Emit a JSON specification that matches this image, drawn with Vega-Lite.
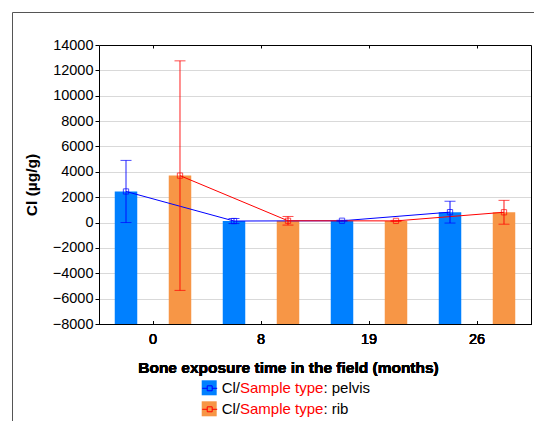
{
  "$schema": "https://vega.github.io/schema/vega-lite/v6.json",
  "width": 524,
  "height": 411,
  "autosize": {"type": "none"},
  "padding": {"left": 12, "top": 12, "right": 0, "bottom": 0},
  "background": "#ffffff",
  "config": {
    "font": "Liberation Sans",
    "view": {"stroke": "#555555", "strokeWidth": 1},
    "axis": {
      "labelColor": "#000000",
      "titleColor": "#000000",
      "domainColor": "#000000",
      "tickColor": "#000000",
      "labelFontSize": 14.5,
      "titleFontSize": 15.5,
      "titleFontWeight": "bold"
    }
  },
  "data": {
    "values": [
      {"month": 0, "type": "pelvis", "mean": 2450, "low": 0, "high": 4900},
      {"month": 0, "type": "rib", "mean": 3700, "low": -5350, "high": 12750},
      {"month": 8, "type": "pelvis", "mean": 120, "low": -80, "high": 320},
      {"month": 8, "type": "rib", "mean": 140, "low": -200, "high": 480},
      {"month": 19, "type": "pelvis", "mean": 140, "low": 100, "high": 180},
      {"month": 19, "type": "rib", "mean": 130, "low": 90, "high": 170},
      {"month": 26, "type": "pelvis", "mean": 820, "low": -40, "high": 1680},
      {"month": 26, "type": "rib", "mean": 810, "low": -130, "high": 1750}
    ]
  },
  "encoding": {
    "x": {
      "field": "month",
      "type": "ordinal",
      "scale": {"range": [87, 519], "paddingInner": 0, "paddingOuter": 0},
      "axis": {
        "orient": "bottom",
        "offset": -99,
        "labelAngle": 0,
        "tickSize": -3,
        "labelPadding": 11,
        "domainColor": "#000000",
        "title": "Bone exposure time in the field (months)",
        "titleX": 276,
        "titleY": 43,
        "titleBaseline": "middle"
      }
    },
    "xOffset": {
      "field": "type",
      "type": "nominal",
      "scale": {"paddingInner": 0.5833, "paddingOuter": 0.2917}
    }
  },
  "layer": [
    {
      "mark": {"type": "bar"},
      "encoding": {
        "y": {
          "field": "mean",
          "type": "quantitative",
          "scale": {"domain": [-8000, 14000], "range": [312, 33], "nice": false, "zero": false},
          "axis": {
            "orient": "left",
            "offset": -87,
            "values": [-8000, -6000, -4000, -2000, 0, 2000, 4000, 6000, 8000, 10000, 12000, 14000],
            "format": "d",
            "grid": true,
            "gridColor": "#d9d9d9",
            "tickSize": 4,
            "labelPadding": 2,
            "title": "Cl (µg/g)",
            "titleX": -68,
            "titleY": 172.5,
            "titleBaseline": "middle",
            "titleAlign": "center"
          }
        },
        "y2": {"datum": -8000},
        "fill": {
          "field": "type",
          "type": "nominal",
          "scale": {"domain": ["pelvis", "rib"], "range": ["#0080ff", "#f79646"]},
          "legend": {
            "orient": "none",
            "legendX": 189.7,
            "legendY": 368.3,
            "title": null,
            "padding": 0,
            "rowPadding": 5,
            "symbolType": "square",
            "symbolSize": 225,
            "symbolStrokeWidth": 0,
            "labelOffset": 5,
            "labelFontSize": 15,
            "labelColor": "#000000",
            "labelExpr": "'Cl/'"
          }
        }
      }
    },
    {
      "mark": {"type": "line", "strokeWidth": 1},
      "encoding": {
        "y": {
          "field": "mean",
          "type": "quantitative",
          "axis": {"orient": "right", "offset": -5, "labels": false, "ticks": false, "grid": false, "title": null}
        },
        "stroke": {
          "field": "type",
          "type": "nominal",
          "scale": {"domain": ["pelvis", "rib"], "range": ["#0000ff", "#ff0000"]},
          "legend": {
            "orient": "none",
            "legendX": 189.7,
            "legendY": 368.3,
            "title": null,
            "padding": 0,
            "rowPadding": 5,
            "symbolType": "M-1,0H-0.33M0.33,0H1M-0.33,-0.33H0.33V0.33H-0.33Z",
            "symbolSize": 225,
            "symbolStrokeWidth": 1,
            "symbolFillColor": "transparent",
            "labelOffset": 5,
            "labelFontSize": 15,
            "labelExpr": "''"
          }
        }
      }
    },
    {
      "mark": {"type": "rule", "strokeWidth": 1},
      "encoding": {
        "y": {"field": "low", "type": "quantitative", "axis": null},
        "y2": {"field": "high"},
        "stroke": {
          "field": "type",
          "type": "nominal",
          "scale": {"domain": ["pelvis", "rib"], "range": ["#0000ff", "#ff0000"]},
          "legend": null
        },
        "strokeDash": {
          "field": "type",
          "type": "nominal",
          "scale": {"range": [[1, 0], [1, 0]]},
          "legend": {
            "orient": "none",
            "legendX": 189.7,
            "legendY": 368.3,
            "title": null,
            "padding": 0,
            "rowPadding": 5,
            "symbolType": "square",
            "symbolSize": 225,
            "symbolOpacity": 0,
            "symbolStrokeWidth": 0,
            "labelOffset": 106.7,
            "labelFontSize": 15,
            "labelColor": "#000000",
            "labelExpr": "': ' + datum.label"
          }
        }
      }
    },
    {
      "mark": {"type": "tick", "size": 11, "thickness": 1},
      "encoding": {
        "y": {"field": "high", "type": "quantitative", "axis": null},
        "color": {
          "field": "type",
          "type": "nominal",
          "scale": {"domain": ["pelvis", "rib"], "range": ["#0000ff", "#ff0000"]},
          "legend": null
        }
      }
    },
    {
      "mark": {"type": "tick", "size": 11, "thickness": 1},
      "encoding": {
        "y": {"field": "low", "type": "quantitative", "axis": null},
        "color": {
          "field": "type",
          "type": "nominal",
          "scale": {"domain": ["pelvis", "rib"], "range": ["#0000ff", "#ff0000"]},
          "legend": null
        }
      }
    },
    {
      "mark": {"type": "point", "filled": false, "size": 28, "strokeWidth": 1},
      "encoding": {
        "x": {
          "field": "month",
          "type": "ordinal",
          "axis": {"orient": "top", "offset": -33, "labels": false, "title": null, "tickSize": -3}
        },
        "y": {"field": "mean", "type": "quantitative", "axis": null},
        "stroke": {
          "field": "type",
          "type": "nominal",
          "scale": {"domain": ["pelvis", "rib"], "range": ["#0000ff", "#ff0000"]},
          "legend": null
        },
        "shape": {
          "field": "type",
          "type": "nominal",
          "scale": {"domain": ["pelvis", "rib"], "range": ["square", "square"]},
          "legend": {
            "orient": "none",
            "legendX": 189.7,
            "legendY": 368.3,
            "title": null,
            "padding": 0,
            "rowPadding": 5,
            "symbolSize": 225,
            "symbolOpacity": 0,
            "symbolStrokeWidth": 0,
            "labelOffset": 23.3,
            "labelFontSize": 15,
            "labelColor": "#ff0000",
            "labelExpr": "'Sample type'"
          }
        }
      }
    }
  ],
  "resolve": {
    "scale": {
      "fill": "independent",
      "stroke": "independent",
      "color": "independent",
      "shape": "independent",
      "strokeDash": "independent"
    }
  }
}
